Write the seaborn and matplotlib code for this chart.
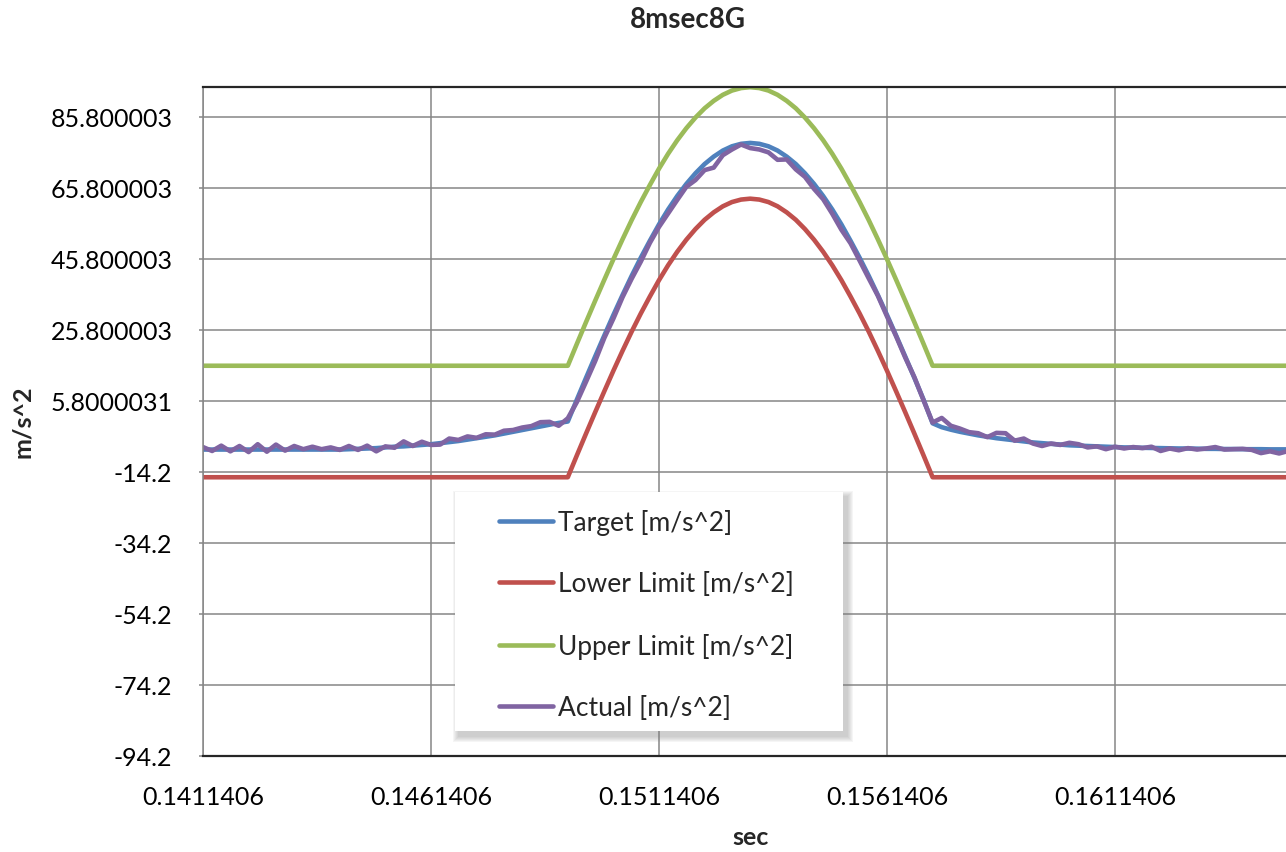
import numpy as np
import pandas as pd
import matplotlib
matplotlib.use("Agg")
import matplotlib.pyplot as plt
import seaborn as sns
from matplotlib.patches import Rectangle
from matplotlib.lines import Line2D

# ---------------- data ----------------
title = "8msec8G"
x_label = "sec"
y_label = "m/s^2"
series_names = ["Target [m/s^2]", "Lower Limit [m/s^2]", "Upper Limit [m/s^2]", "Actual [m/s^2]"]
series_colors = ["#4F81BD", "#C0504D", "#9BBB59", "#8064A2"]

x_ticks = [0.1411406, 0.1461406, 0.1511406, 0.1561406, 0.1611406]
x_tick_labels = ["0.1411406", "0.1461406", "0.1511406", "0.1561406", "0.1611406"]
y_ticks = [-94.2, -74.2, -54.2, -34.2, -14.2, 5.8000031, 25.800003, 45.800003, 65.800003, 85.800003]
y_tick_labels = ["-94.2", "-74.2", "-54.2", "-34.2", "-14.2", "5.8000031", "25.800003", "45.800003", "65.800003", "85.800003"]
x_range = [0.1411406, 0.1648906]
y_range = [-94.2, 94.2]

# sample times (0.2 ms sampling starting at 0.1411406 s)
t_start = 0.1411406
t_step = 0.0002
n_samples = 120
time_s = np.round(t_start + t_step * np.arange(n_samples), 7)

target = ([-7.9] * 16 +
          [-7.8, -7.7, -7.6, -7.5, -7.3, -7.1, -7.0, -6.8, -6.6, -6.4, -6.1, -5.8,
           -5.5, -5.1, -4.7, -4.3, -3.9, -3.4, -2.9, -2.4, -1.9, -1.4, -0.9, -0.4] +
          [0.0, 6.2, 12.3, 18.3, 24.2, 30.0, 35.6, 41.0, 46.1, 50.9, 55.5, 59.7, 63.5, 66.9,
           69.9, 72.5, 74.6, 76.3, 77.5, 78.2, 78.45, 78.2, 77.5, 76.3, 74.6, 72.5, 69.9,
           66.9, 63.5, 59.7, 55.5, 50.9, 46.1, 41.0, 35.6, 30.0, 24.2, 18.3, 12.3, 6.2, -0.5] +
          [-1.6, -2.3, -2.9, -3.4, -3.9, -4.3, -4.7, -5.0, -5.3, -5.6, -5.9, -6.1, -6.3,
           -6.5, -6.7, -6.8, -6.9, -7.0, -7.1, -7.2,
           -7.3, -7.35, -7.4, -7.45, -7.5, -7.55, -7.6, -7.6, -7.65, -7.7, -7.7, -7.75,
           -7.75, -7.8, -7.8, -7.8, -7.85, -7.85, -7.85])

lower_limit = ([-15.7] * 40 +
               [-15.7, -9.5, -3.4, 2.6, 8.5, 14.3, 19.9, 25.3, 30.4, 35.2, 39.8, 44.0, 47.8,
                51.2, 54.2, 56.8, 58.9, 60.6, 61.8, 62.5, 62.75, 62.5, 61.8, 60.6, 58.9, 56.8,
                54.2, 51.2, 47.8, 44.0, 39.8, 35.2, 30.4, 25.3, 19.9, 14.3, 8.5, 2.6, -3.4,
                -9.5, -15.7] +
               [-15.7] * 39)

upper_limit = ([15.7] * 40 +
               [15.7, 21.9, 28.0, 34.0, 39.9, 45.7, 51.3, 56.7, 61.8, 66.6, 71.2, 75.4, 79.2,
                82.6, 85.6, 88.2, 90.3, 92.0, 93.2, 93.9, 94.15, 93.9, 93.2, 92.0, 90.3, 88.2,
                85.6, 82.6, 79.2, 75.4, 71.2, 66.6, 61.8, 56.7, 51.3, 45.7, 39.9, 34.0, 28.0,
                21.9, 15.7] +
               [15.7] * 39)

actual = [-7.2, -8.3, -6.8, -8.4, -6.9, -8.6, -6.4, -8.5, -6.5, -8.2,
          -6.9, -7.8, -7.1, -7.8, -7.3, -8.0, -6.9, -8.0, -6.8, -8.4,
          -7.0, -7.4, -5.6, -6.9, -5.7, -6.6, -6.5, -4.8, -5.2, -4.2,
          -4.6, -3.6, -3.7, -2.6, -2.4, -1.7, -1.3, -0.2, -0.1, -1.2,
          0.9, 5.5, 11.2, 17.0, 23.5, 29.0, 35.0, 40.2, 45.0, 50.3,
          54.8, 58.6, 62.4, 66.1, 68.0, 70.8, 71.5, 75.0, 76.6, 78.0,
          77.0, 76.6, 75.8, 73.7, 73.8, 71.0, 68.9, 65.5, 62.6, 58.5,
          54.0, 50.2, 45.3, 40.3, 35.4, 29.6, 24.0, 18.0, 12.5, 6.0,
          -0.3, 1.0, -1.2, -2.0, -3.0, -3.3, -4.4, -3.2, -3.3, -5.4,
          -4.8, -6.2, -6.9, -6.2, -6.6, -6.0, -6.4, -7.3, -7.0, -7.8,
          -7.1, -7.6, -7.2, -7.5, -7.1, -8.3, -7.6, -8.1, -7.5, -7.9,
          -7.6, -7.2, -7.9, -7.8, -7.7, -8.0, -8.9, -8.4, -9.0, -8.3]

# ---------------- style ----------------
sns.set_theme(style="white")
plt.rcParams["font.family"] = ["Lato", "DejaVu Sans"]
plt.rcParams["lines.solid_joinstyle"] = "round"
plt.rcParams["lines.solid_capstyle"] = "round"

W, H = 1286, 853
fig = plt.figure(figsize=(W / 100, H / 100), dpi=100)
fig.patch.set_facecolor("white")

ax_l, ax_r, ax_t, ax_b = 203, 1286, 88, 757
ax = fig.add_axes([ax_l / W, 1 - ax_b / H, (ax_r - ax_l) / W, (ax_b - ax_t) / H])

frames = []
for name, vals in zip(series_names, [target, lower_limit, upper_limit, actual]):
    frames.append(pd.DataFrame({"time": time_s, "value": vals, "series": name}))
df = pd.concat(frames, ignore_index=True)

LW = 3.3
sns.lineplot(data=df, x="time", y="value", hue="series", hue_order=series_names,
             palette=dict(zip(series_names, series_colors)), estimator=None,
             sort=False, linewidth=LW, legend=False, ax=ax)

ax.set_xlim(*x_range)
ax.set_ylim(*y_range)
ax.set_xticks(x_ticks, labels=x_tick_labels)
ax.set_yticks(y_ticks, labels=y_tick_labels)
ax.set_xlabel("")
ax.set_ylabel("")
ax.grid(True, color="#868686", linewidth=1.1)
ax.set_axisbelow(True)

for s in ["top", "bottom"]:
    ax.spines[s].set_color("#262626")
    ax.spines[s].set_linewidth(1.6)
ax.spines["left"].set_color("#868686")
ax.spines["left"].set_linewidth(1.1)
ax.spines["right"].set_visible(False)

ax.tick_params(axis="y", length=3, width=1.1, color="#868686", pad=19,
               labelsize=18, labelcolor="black", left=True)
ax.tick_params(axis="x", length=0, pad=21, labelsize=18, labelcolor="black", bottom=True)

fig.text(688 / W, 1 - 20 / H, title, ha="center", va="center", fontsize=20, fontweight="bold")
fig.text(751 / W, 1 - 838 / H, x_label, ha="center", va="center", fontsize=18, fontweight="bold")
fig.text(22 / W, 1 - 422 / H, y_label, ha="center", va="center", fontsize=18,
         fontweight="bold", rotation=90)

# legend box with soft shadow
bx0, by0, bx1, by1 = 455, 493, 843, 732
for k in range(6, 0, -1):
    fig.patches.append(Rectangle(((bx0 + 4 - k) / W, 1 - (by1 + 5 + k) / H),
                                 (bx1 - bx0 + 2 * k) / W, (by1 - by0 + 2 * k) / H,
                                 transform=fig.transFigure, facecolor="#7f7f7f",
                                 edgecolor="none", alpha=0.07, zorder=3))
fig.patches.append(Rectangle((bx0 / W, 1 - by1 / H), (bx1 - bx0) / W, (by1 - by0) / H,
                             transform=fig.transFigure, facecolor="white",
                             edgecolor="none", zorder=4))

handles = [Line2D([], [], color=c, linewidth=LW) for c in series_colors]
leg = fig.legend(handles, series_names, loc="upper left",
                 bbox_to_anchor=(499 / W, 1 - 510 / H), bbox_transform=fig.transFigure,
                 frameon=False, fontsize=19, handlelength=2.05, handletextpad=0.2,
                 labelspacing=1.38, borderpad=0, borderaxespad=0)
leg.set_zorder(6)

fig.savefig("out.png", dpi=100, facecolor="white")
